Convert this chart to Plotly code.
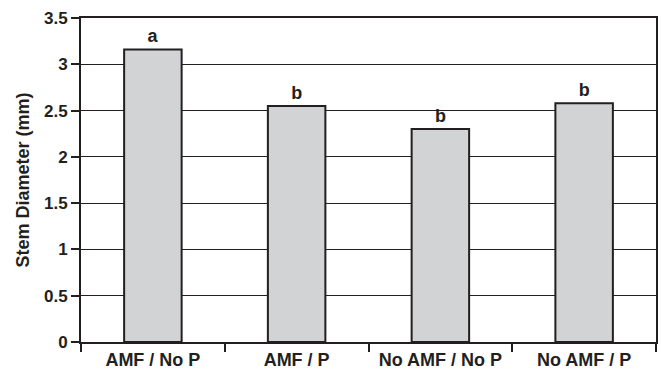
import plotly.graph_objects as go

categories = ["AMF / No P", "AMF / P", "No AMF / No P", "No AMF / P"]
stem_diameter = [3.16, 2.55, 2.30, 2.58]
letters = ["a", "b", "b", "b"]
y_ticks = [0, 0.5, 1, 1.5, 2, 2.5, 3, 3.5]
y_tick_labels = ["0", "0.5", "1", "1.5", "2", "2.5", "3", "3.5"]

FONT = "Liberation Sans, Arial, sans-serif"
INK = "#231f20"

fig = go.Figure()
fig.add_trace(go.Bar(
    x=categories,
    y=stem_diameter,
    marker=dict(color="#d1d3d4", line=dict(color=INK, width=2)),
    width=0.4,
    text=letters,
    textposition="outside",
    textfont=dict(family=FONT, size=18, color=INK, weight="bold"),
    cliponaxis=False,
    hoverinfo="skip",
))

fig.update_layout(
    width=662, height=385,
    margin=dict(l=81, r=6, t=18, b=43, autoexpand=False),
    paper_bgcolor="white", plot_bgcolor="white",
    showlegend=False,
    font=dict(family=FONT, color=INK, weight="bold"),
    uniformtext=dict(minsize=18, mode="show"),
)
fig.update_xaxes(
    type="category",
    showline=True, linecolor=INK, linewidth=2, mirror=True,
    ticks="outside", tickson="boundaries", ticklen=8, tickwidth=1.5, tickcolor=INK,
    tickfont=dict(family=FONT, size=18, color=INK, weight="bold"),
    showgrid=False,
)
fig.update_yaxes(
    range=[0, 3.5],
    tickvals=y_ticks, ticktext=y_tick_labels,
    showline=True, linecolor=INK, linewidth=2, mirror=True,
    ticks="outside", ticklen=8, tickwidth=1.5, tickcolor=INK,
    tickfont=dict(family=FONT, size=17, color=INK, weight="bold"),
    showgrid=True, gridcolor=INK, gridwidth=1,
    zeroline=False,
    title=dict(text="Stem Diameter (mm)", font=dict(family=FONT, size=18, color=INK, weight="bold"), standoff=10),
)

fig.write_html("out.html", config={"displayModeBar": False},
               post_script="document.body.style.margin='0px';")
